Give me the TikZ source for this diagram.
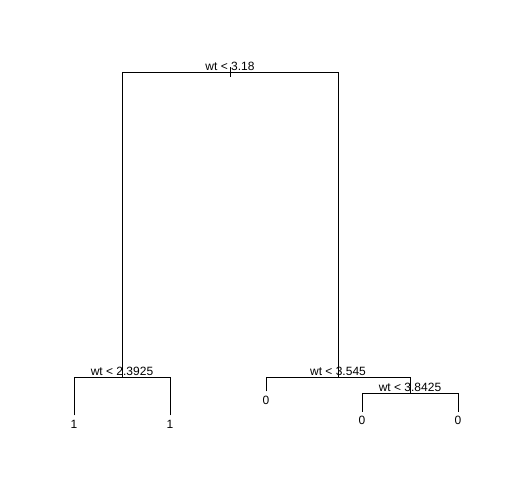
\documentclass[tikz,border=0pt]{standalone}
\usepackage{fontspec}
\setmainfont{Liberation Sans}
\begin{document}
\begin{tikzpicture}[x=1bp,y=-1bp,
  edge/.style={draw=black,line width=0.9bp,line cap=rect},
  lbl/.style={anchor=base,inner sep=0pt,font=\fontsize{12bp}{14bp}\selectfont}]
\useasboundingbox (0,0) rectangle (504,504);
% tree points
\coordinate (rtop) at (230,67.5);
\coordinate (rbot) at (230,77);
\coordinate (rl) at (122,72.5);
\coordinate (rr) at (338,72.5);
\coordinate (n2) at (122,377);
\coordinate (n2l) at (74,377);
\coordinate (n2r) at (170,377);
\coordinate (l4) at (74,415);
\coordinate (l5) at (170,415);
\coordinate (n3) at (338,377);
\coordinate (n3l) at (266,377);
\coordinate (n3r) at (410,377);
\coordinate (l6) at (266,391);
\coordinate (n7) at (410,393);
\coordinate (n7l) at (362,393);
\coordinate (n7r) at (458,393);
\coordinate (l14) at (362,411.5);
\coordinate (l15) at (458,411.5);
% edges
\draw[edge] (rtop) -- (rbot);
\draw[edge] (rl) -- (rr);
\draw[edge] (rl) -- (n2);
\draw[edge] (rr) -- (n3);
\draw[edge] (n2l) -- (n2r);
\draw[edge] (n2l) -- (l4);
\draw[edge] (n2r) -- (l5);
\draw[edge] (n3l) -- (n3r);
\draw[edge] (n3l) -- (l6);
\draw[edge] (n3r) -- (n7);
\draw[edge] (n7l) -- (n7r);
\draw[edge] (n7l) -- (l14);
\draw[edge] (n7r) -- (l15);
% split labels
\node[lbl] (s1) at (230,70.5) {wt < 3.18};
\node[lbl] (s2) at (122,375) {wt < 2.3925};
\node[lbl] (s3) at (338,375) {wt < 3.545};
\node[lbl] (s7) at (410,391) {wt < 3.8425};
% leaf labels
\node[lbl] (t4) at (74,428.5) {1};
\node[lbl] (t5) at (170,428.5) {1};
\node[lbl] (t6) at (266,404) {0};
\node[lbl] (t14) at (362,424.5) {0};
\node[lbl] (t15) at (458,424.5) {0};
\end{tikzpicture}
\end{document}
